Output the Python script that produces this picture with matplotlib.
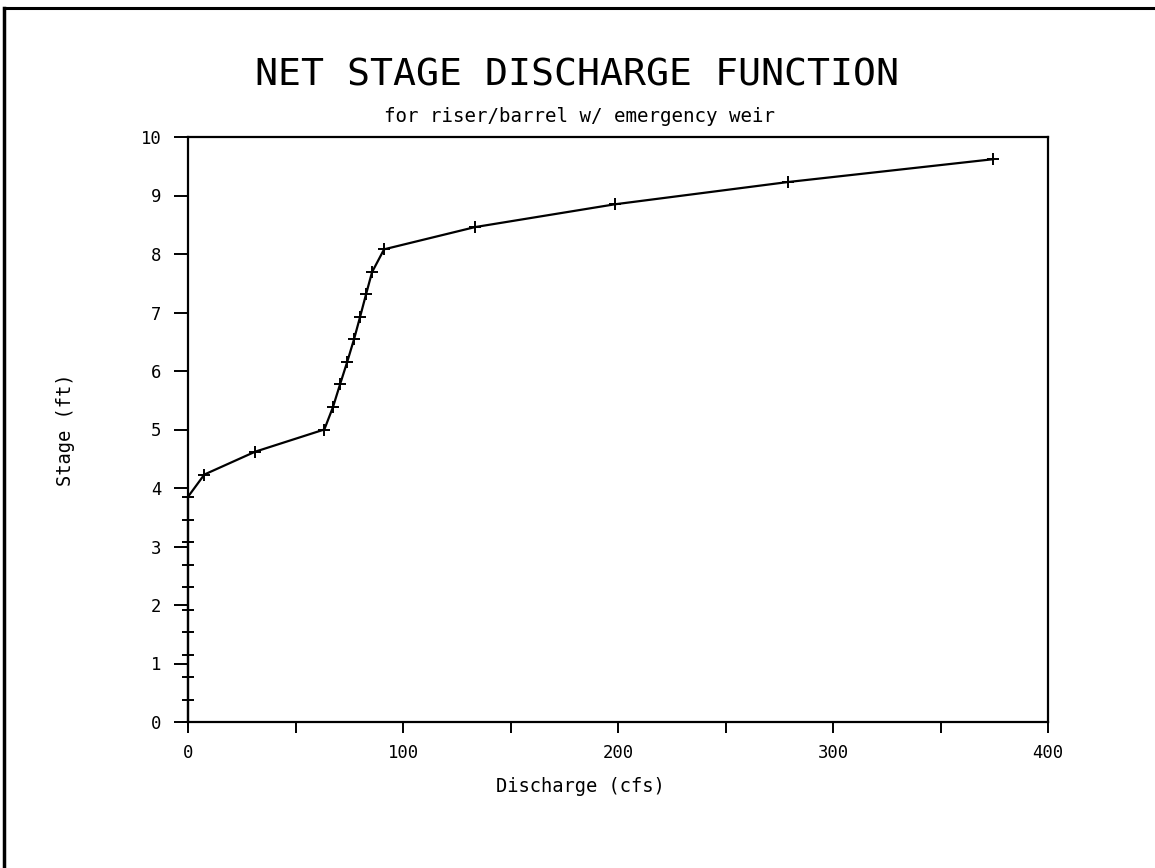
import matplotlib
matplotlib.use("Agg")
import matplotlib.pyplot as plt
from matplotlib.lines import Line2D
from matplotlib.ticker import MultipleLocator

plt.rcParams["font.family"] = ["DejaVu Sans Mono"]

# Stage-discharge table for the riser/barrel outlet with emergency weir
stage_ft = [0.00, 0.38, 0.77, 1.15, 1.54, 1.92, 2.31, 2.69, 3.08, 3.46,
            3.85, 4.23, 4.62, 5.00, 5.38, 5.77, 6.15, 6.54, 6.92, 7.31,
            7.69, 8.08, 8.46, 8.85, 9.23, 9.62]
discharge_cfs = [0.0, 0.0, 0.0, 0.0, 0.0, 0.0, 0.0, 0.0, 0.0, 0.0,
                 0.0, 7.6, 31.2, 63.4, 67.4, 70.7, 74.0, 77.2, 80.0, 82.8,
                 85.6, 91.2, 133.5, 198.6, 279.0, 374.4]

x_ticks = [0, 100, 200, 300, 400]
y_ticks = [0, 1, 2, 3, 4, 5, 6, 7, 8, 9, 10]

W, H = 1155, 868
fig = plt.figure(figsize=(W / 100, H / 100), dpi=100)
fig.patch.set_facecolor("white")

# axes box in pixel coordinates
left, right, top, bottom = 188, 1048, 137, 722
ax = fig.add_axes([left / W, 1 - bottom / H, (right - left) / W, (bottom - top) / H])

ax.plot(discharge_cfs, stage_ft, color="black", lw=1.6, marker="+",
        markersize=9, markeredgewidth=1.4, clip_on=False)

ax.set_xlim(0, 400)
ax.set_ylim(0, 10)
ax.set_xticks(x_ticks)
ax.xaxis.set_minor_locator(MultipleLocator(50))
ax.set_yticks(y_ticks)

for s in ax.spines.values():
    s.set_linewidth(1.6)
    s.set_color("black")

ax.tick_params(axis="both", which="both", direction="out", color="black",
               width=1.4, labelsize=12.4)
ax.tick_params(axis="x", which="major", length=8, pad=8)
ax.tick_params(axis="x", which="minor", length=8)
ax.tick_params(axis="y", which="major", length=10, pad=9)

ax.set_xlabel("Discharge (cfs)", fontsize=13.5, va="center")
ax.set_ylabel("Stage (ft)", fontsize=13.5, va="center")
ax.xaxis.set_label_coords((580 - left) / (right - left), -(787 - bottom) / (bottom - top))
ax.yaxis.set_label_coords(-(left - 65) / (right - left), 0.5)

fig.text(577 / W, 1 - 75 / H, "NET STAGE DISCHARGE FUNCTION",
         ha="center", va="center", fontsize=27.5)
fig.text(580 / W, 1 - 117 / H, "for riser/barrel w/ emergency weir",
         ha="center", va="center", fontsize=13.8)

# page frame on the left and top edges
fig.add_artist(Line2D([4 / W, 4 / W], [0, 1 - 8 / H], color="black", lw=2.5,
                      transform=fig.transFigure))
fig.add_artist(Line2D([4 / W, 1], [1 - 8 / H, 1 - 8 / H], color="black", lw=2.2,
                      transform=fig.transFigure))

fig.savefig("out.png", dpi=100, facecolor="white")
